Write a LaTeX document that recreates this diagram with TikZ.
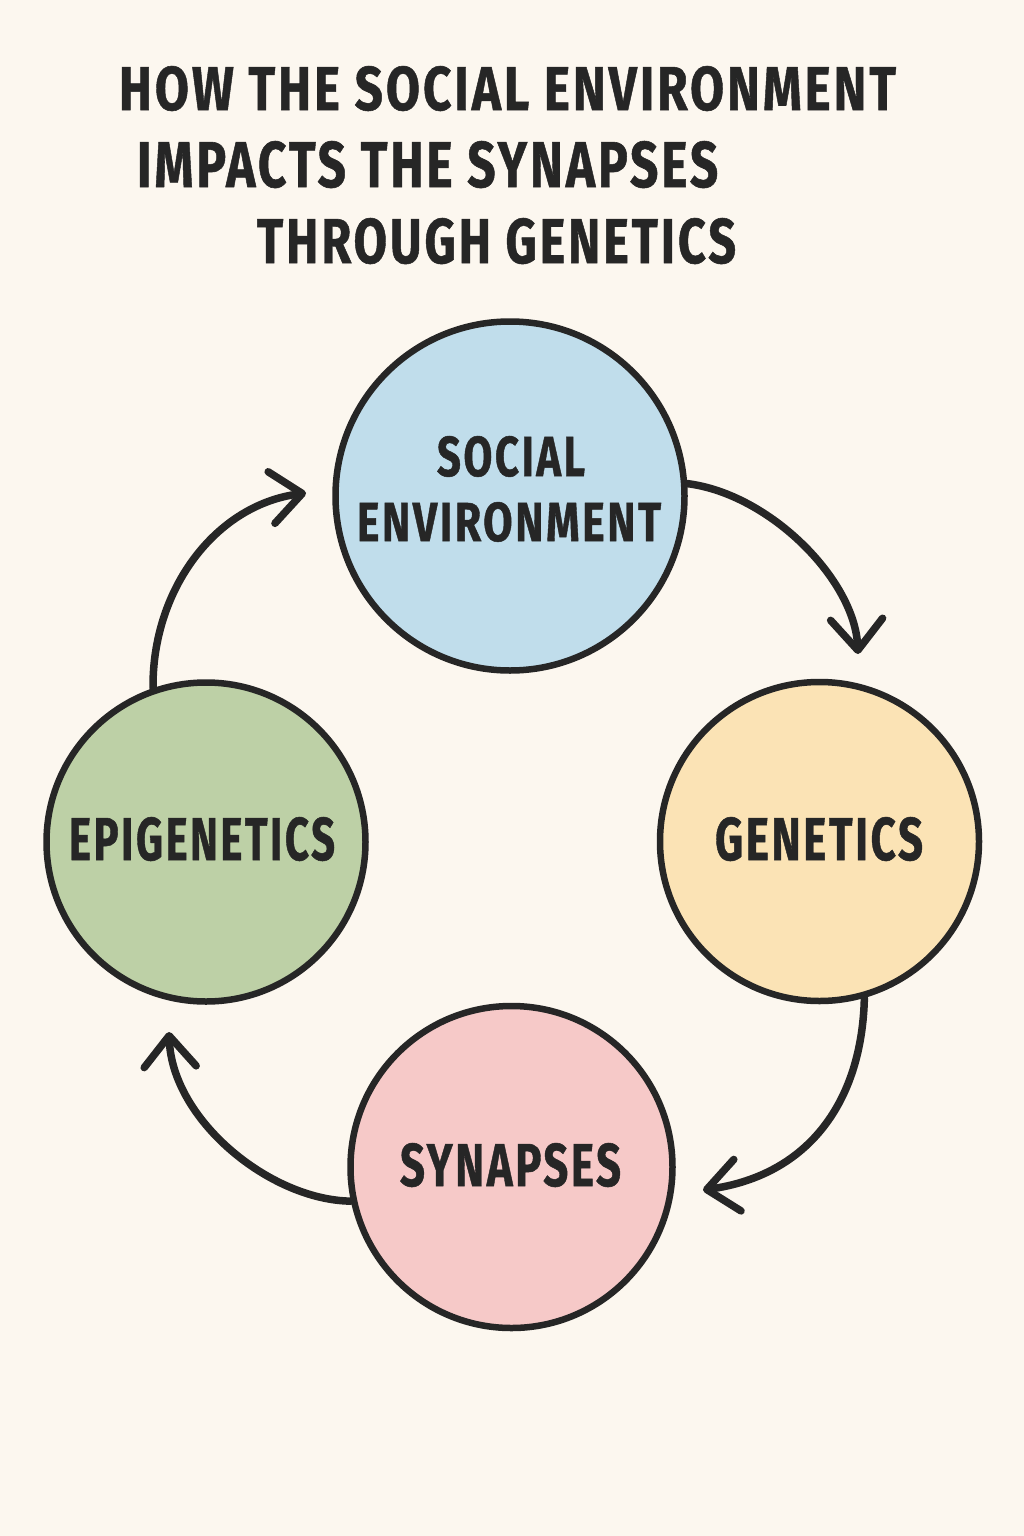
\documentclass[tikz,border=0pt]{standalone}
\usepackage{graphicx}
\usepackage{fontspec}
\setmainfont{Fira Sans}
\newfontfamily\lblfont{Fira Sans Bold}[FakeBold=0.9,LetterSpace=6]
\usetikzlibrary{arrows.meta}
\definecolor{bgc}{HTML}{FCF7EF}
\definecolor{ink}{HTML}{262626}
\definecolor{cblue}{HTML}{C0DDEB}
\definecolor{cyellow}{HTML}{FBE3B5}
\definecolor{cgreen}{HTML}{BDD0A6}
\definecolor{cpink}{HTML}{F6C9C8}
\newcommand{\fitline}[3]{\resizebox{#1}{#2}{\lblfont #3}}
\tikzset{
  circ/.style={circle, draw=ink, line width=6.5pt, inner sep=0pt},
  lbl/.style={inner sep=0pt, outer sep=0pt, anchor=north west, text=ink},
  arr/.style={draw=ink, line width=7.5pt, line cap=round,
    -{Straight Barb[length=31pt,width=52pt,line cap=round,line join=round]}}
}
\begin{document}
\begin{tikzpicture}[x=1pt,y=-1pt]
\fill[bgc] (0,0) rectangle (1024,1536);
\useasboundingbox (0,0) rectangle (1024,1536);
% title
\node[lbl] (t1) at (119,66) {\fitline{777pt}{44pt}{HOW THE SOCIAL ENVIRONMENT}};
\node[lbl] (t2) at (137,141) {\fitline{581pt}{46pt}{IMPACTS THE SYNAPSES}};
\node[lbl] (t3) at (257,218) {\fitline{479pt}{45pt}{THROUGH GENETICS}};
% circles
\node[circ, fill=cblue, minimum size=349pt] (soc) at (510,496) {};
\node[circ, fill=cyellow, minimum size=319pt] (gen) at (819.5,841.5) {};
\node[circ, fill=cgreen, minimum size=319pt] (epi) at (206,842) {};
\node[circ, fill=cpink, minimum size=322pt] (syn) at (511.5,1167) {};
% labels
\node[lbl] (socA) at (437,436) {\fitline{148pt}{40pt}{SOCIAL}};
\node[lbl] (socB) at (357,502) {\fitline{304pt}{39pt}{ENVIRONMENT}};
\node[lbl] (genA) at (715,817) {\fitline{208pt}{43pt}{GENETICS}};
\node[lbl] (epiA) at (69,817) {\fitline{266pt}{43pt}{EPIGENETICS}};
\node[lbl] (synA) at (400,1143) {\fitline{221pt}{43pt}{SYNAPSES}};
% arrow tips
\coordinate (e1) at (858,654);
\coordinate (e2) at (703,1190);
\coordinate (e3) at (169,1032);
\coordinate (e4) at (306,493);
% arrows
\draw[arr] (soc.4) .. controls (770,494) and (855,580) .. (e1);
\draw[arr] (gen.-74) .. controls (862,1100) and (810,1175) .. (e2);
\draw[arr] (syn.192) .. controls (270,1200) and (172,1120) .. (e3);
\draw[arr] (epi.109) .. controls (152,590) and (215,505) .. (e4);
\end{tikzpicture}
\end{document}
